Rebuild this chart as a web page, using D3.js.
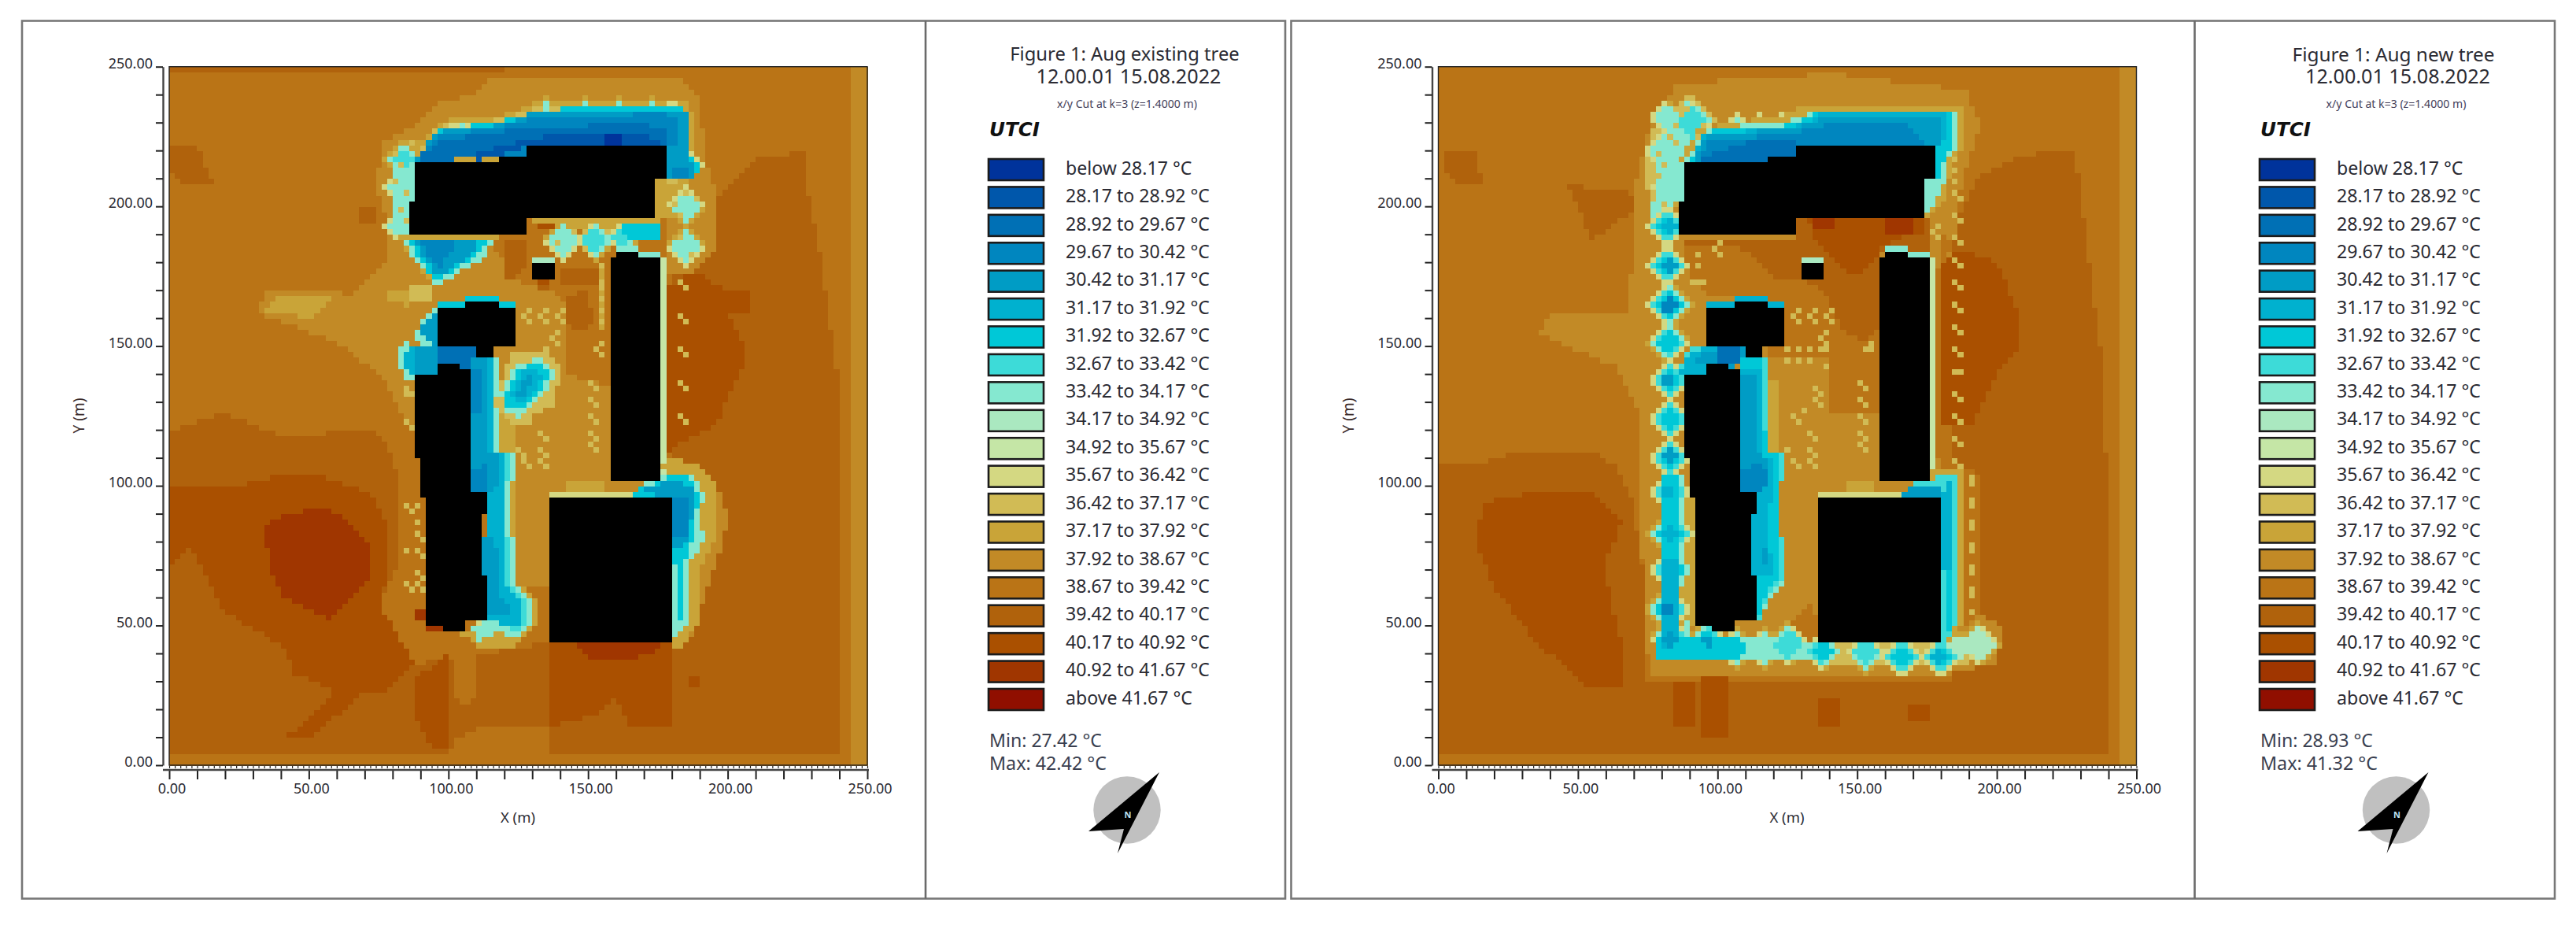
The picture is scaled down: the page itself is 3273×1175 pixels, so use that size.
<!DOCTYPE html>
<html><head><meta charset="utf-8">
<script src="https://cdn.jsdelivr.net/npm/d3@7"></script>
<style>html,body{margin:0;padding:0;background:#fff}svg{display:block}text{font-family:"Noto Sans",sans-serif}</style>
</head><body><svg id="chart" width="3273" height="1175"></svg>
<script>
// ---- legend ----
const bandLabels=["below 28.17 °C","28.17 to 28.92 °C","28.92 to 29.67 °C","29.67 to 30.42 °C","30.42 to 31.17 °C","31.17 to 31.92 °C","31.92 to 32.67 °C","32.67 to 33.42 °C","33.42 to 34.17 °C","34.17 to 34.92 °C","34.92 to 35.67 °C","35.67 to 36.42 °C","36.42 to 37.17 °C","37.17 to 37.92 °C","37.92 to 38.67 °C","38.67 to 39.42 °C","39.42 to 40.17 °C","40.17 to 40.92 °C","40.92 to 41.67 °C","above 41.67 °C"];
const bandColors=["#00339b","#0057ab","#0070b5","#0086bf","#009cc5","#00b1cf","#00c8d7","#3ddbd8","#85e8d0","#aae8c0","#c5e6a6","#d4d882","#d1bb55","#c9a438","#c28a26","#ba7416","#b0620c","#aa5000","#a03600","#900f00"];
const tickValues=d3.range(0,251,10);
const minorTicks=d3.range(0,251,2);

// ---- buildings (x,y in metres), same in both panels ----
const buildings=[
 [[88,216.3],[118,216.3],[118,218.6],[128,218.6],[128,222.6],[179,222.6],[179,209.4],[175,209.4],[175,195.4],[128.5,195.4],[128.5,189.7],[86,189.7],[86,202],[88,202]],
 [[130,174],[138.6,174],[138.6,180.2],[130,180.2]],
 [[158,102],[176.7,102],[176.7,182.2],[168.7,182.2],[168.7,184.6],[160.5,184.6],[160.5,182.2],[158,182.2]],
 [[96,150],[110,150],[110,146],[116.7,146],[116.7,150],[124.5,150],[124.5,164.4],[118.4,164.4],[118.4,166.4],[106,166.4],[106,164.4],[96,164.4]],
 [[88,140.4],[96,140.4],[96,144.5],[105,144.5],[105,142.3],[108.8,142.3],[108.8,98.4],[114.5,98.4],[114.5,90.2],[112.8,90],[112.8,68.3],[114.5,68.3],[114.5,51.4],[106.2,51.4],[106.2,47.5],[98.2,47.5],[98.2,49.5],[91.9,49.5],[91.9,95.5],[89.8,95.5],[89.8,109.6],[88,109.6]],
 [[136,43.4],[180.6,43.4],[180.6,96.6],[136,96.6]]
];
const thinLines=[
 [10,[[176.7,104],[178.4,104],[178.4,182],[176.7,182]]],
 [11,[[136,96.6],[166,96.6],[166,98.2],[136,98.2]]],
 [9,[[130,180.2],[138.6,180.2],[138.6,182.2],[130,182.2]]],
 [8,[[160.5,184.6],[168.7,184.6],[168.7,186.2],[160.5,186.2]]],
 [8,[[168.7,182.2],[177,182.2],[177,184],[168.7,184]]]
];

// ---- left panel: existing tree ----
const leftBackground=[
 [14,[[243.5,0],[250,0],[250,250],[243.5,250]]],
 [16,[[0,248],[120,248],[120,250],[0,250]]],
 [16,[[0,120],[20,126],[40,118],[72,120],[78.5,114],[82,103],[83,90.6],[82,72],[75.6,58],[74,53],[76.6,44],[86,36],[100,38],[136,44],[180,44],[180,176],[190,188],[196,202],[211,217],[228,220],[228,208],[233,185],[239,143],[240,12],[239,4],[0,4]]],
 [16,[[1,221],[10,222],[13,214],[16,208],[6,208],[1,212]]],
 [16,[[68,201],[74,201],[74,195],[68,195]]],
 [15,[[102,44],[110,42],[111,28],[106,20],[102,26]]],
 [15,[[100,5],[136,5],[136,14],[112,14],[103,10]]],
 [17,[[0,99],[25,100],[41,104],[49,105],[68,99],[72,99],[78.5,86],[78.5,67],[74.7,58],[80,50],[88,36],[79,27],[60,26],[45,33],[41,42],[19,56],[8,78],[0,71]]],
 [17,[[43,11],[52,11],[68,25],[60,26],[52,19]]],
 [17,[[88,31],[99,39.5],[99.5,6],[93.5,6],[88,18]]],
 [17,[[136,44],[180,44],[180,14],[165,14],[160,24],[152,18],[136,14]]],
 [17,[[178,171],[186,176],[192,176],[194,172],[208,169],[208,163],[200,162],[206,149],[206,144],[199,130],[196,122],[183,116],[178,110]]],
 [17,[[186,32],[191,32],[191,29],[186,29]]],
 [18,[[34,86],[41,90],[54,92],[62,90],[73,77.5],[73,67],[58,52],[51,56],[41,60.6],[36,71]]],
 [18,[[146,44],[176,44],[175,41],[166,38],[152,38],[148,41]]],
 [18,[[88,56],[91,56],[92,48],[98,47],[98,50],[92,50],[92,51],[88,52]]],
 [14,[[116,246],[150,247],[184,246],[190,238],[192,217],[196,205],[195,184],[187.5,177],[178,176],[178,108],[186.5,109],[198,97],[199.7,87],[196,72],[189,53],[186.6,44],[136,44],[136,65],[124,65],[118,80],[115,90],[114,142],[88,120],[81.6,128],[77,139],[60,151.5],[32,162],[34,169],[60,170],[66,168],[72,176],[78.5,181],[78.5,193],[74,208],[76.6,223],[86,228],[97,237.6],[108.5,240]]],
 [15,[[117,190],[128,190],[128,196],[178,196],[178,180],[158,180],[158,136],[142,140],[142,165],[135,173],[128,172],[122,178],[117,185]]],
 [16,[[120,189],[128,189],[127,178],[122,174],[119,176]]],
 [16,[[142,168],[150,170],[152,158],[148,155],[142,158]]],
 [16,[[141,178],[154,178],[154,172],[141,172]]],
 [16,[[132,176],[136,176],[136,170],[132,170]]],
 [17,[[132,195.4],[160,195.4],[160,193],[132,193]]],
 [17,[[132,174],[136,174],[136,172],[132,172]]],
 [13,[[32,162],[40,168],[58,167],[50,160],[42,162]]],
 [13,[[76.6,168.6],[87,171.4],[94.4,171.4],[94.4,165.8],[84,164.8],[76,167.6]]],
 [12,[[87,171.4],[94.4,171.4],[94.4,166],[87,166]]],
 [13,[[118,113],[124.5,113],[124.5,125.4],[118,125.4]]],
 [13,[[142.4,99],[156.5,99],[156.5,102],[142.4,102]]],
 [13,[[118,102],[122,102],[122,82],[124,82],[124,102]]],
 [13,[[153.6,156],[156.5,156],[156.5,180],[153.6,180]]],
 // halo around the top building
 [13,[[131.6,237.6],[183.7,238.6],[187.5,234.3],[188.4,220],[186,208],[180,196],[162,190],[128.5,195.4],[116,187.4],[98.2,172.4],[94.4,172.4],[84,185.5],[84,196],[84,216],[83.2,224],[91.6,224],[98.2,230.6],[113.2,231.5],[124.5,233.9]]],
 [12,[[132,236],[182.8,237],[186,234],[186.6,219],[182,208],[179,209],[179,222],[88,216.5],[92,223],[96.3,228.8],[114.2,230.6],[124.5,233]]],
 [8,[[82,222],[88,218],[88,202],[86,202],[86,190],[81,195],[80,206],[80,218]]]
];
const leftCrowns=[
 [185,200.5,8,8],[185,185.5,8,8],[141.4,187.4,8,8],[152.7,187.8,8,7],[163,189,7,7],[185.6,214.6,7,6],
 [84,217.4,7.5,7],[83,207,7.5,8],[81.8,193,6,8],[111.2,47.5,5.5,9],[122.6,48.4,5.5,9],
 [135,236,3.5,8],[149,236,3.5,8],[161,236,3.5,8],[173.4,236,3.5,8],[180,236,3.5,8],[102.4,229.5,3,8],[106,229,3,8]
];
const leftCold=[
 // under the top building
 [8,[[84,189],[116,189],[113.2,181.8],[98.2,173.3],[95.4,172.4],[88.8,179.9],[85,185.5]]],
 [6,[[85.5,189],[114,189],[111.4,183.6],[98.2,174.7],[95.4,174.2],[89.7,180.8]]],
 [4,[[87.9,189],[112.3,189],[107.6,182.7],[98.2,176.1],[95.4,175.2],[90.7,182.7]]],
 [3,[[89.7,189],[102.9,189],[102,184.6],[96.3,178],[92.6,183.6]]],
 // north of the top building
 [6,[[132,234.8],[182.8,236.2],[186,233.9],[186.6,218.4],[190.3,214.6],[187.5,209.4],[175.3,209.4],[175.3,222],[87.9,216.5],[92.6,223],[96.3,227.8],[114.2,229.6],[124.5,232]]],
 [4,[[97.7,227.3],[114.2,228.7],[124.5,231],[131.1,234.3],[181.8,234.8],[185.6,233.4],[185.6,218.4],[188.4,214.6],[187,210.4],[179,210],[179,222],[100,222],[88,216],[94,225.4]]],
 [3,[[96.3,225.4],[114,227.8],[130.2,231.5],[175.3,233.4],[182.8,232.5],[181,222],[120,218],[90,216.3],[92,220]]],
 [2,[[88.8,217.4],[97.3,224],[113.2,225.9],[126.4,228.2],[139.6,228.7],[170.5,229.6],[179,226.8],[178,222.6],[128,222],[118,218.6],[92.6,216]]],
 [1,[[109.5,219.3],[118.9,221.7],[128.3,224],[146.1,226.8],[171.5,225.9],[177,222.6],[128,222],[118,218.6],[109.5,216.5]]],
 [0,[[156.5,226.4],[161.2,226.4],[161.2,223],[156.5,223]]],
 [3,[[181,214],[186,214],[186,211],[181,211]]],
 // south-east of the top building
 [6,[[162,195],[174.3,195],[177,189.3],[168.7,187.4],[162,189.3]]],
 // around the middle building
 [6,[[96,164],[96,166],[106,166],[106,168],[118,168],[118,166],[124,166],[124,164]]],
 [8,[[88,155],[92,162],[96,164],[96,150],[90,150]]],
 [4,[[90,155.5],[93.5,161],[96,162.5],[96,150],[91.6,151.7]]],
 [8,[[81,146],[85,152],[88.8,150],[110,150],[113,146],[105,142],[96,141],[88,137],[85,139]]],
 [5,[[83,146],[86,150],[110,150],[110,146],[105,143],[96,143],[90,139],[86,141]]],
 [4,[[87,150],[110,150],[110,146],[105,144.5],[96,144.5],[96,141],[88,141]]],
 [2,[[96,149.8],[110,149.8],[110,144],[105,142.3],[105,144.5],[96,144.5]]],
 // strip east of the long building
 [13,[[118,147],[119.5,112],[125,113],[125,102],[123,102],[123,82],[125,81],[125,65],[132,60],[132,50],[122,42],[111,42],[105,47],[114,51],[114,140]]],
 [8,[[118,146],[118,128.2],[118,112.3],[123.6,112.3],[123.6,102],[121.7,102],[121.7,82.2],[123.6,81.3],[123.6,64.4],[130.2,59.7],[130.2,51.2],[122.6,44.7],[118,49.3],[111.4,44.2],[106.7,50.3],[114.5,51.4],[114.5,98],[108.8,98],[108.8,146]]],
 [7,[[116.5,146],[117,112],[122.6,112],[122.6,102],[120.7,102],[120.7,82],[122.6,81],[122.6,64],[128.6,59.7],[128.6,52],[124,48],[118,52],[114.5,51.4],[114.5,98],[108.8,98],[108.8,146]]],
 [5,[[115.5,146],[116,128],[116,112],[121,112],[121,102],[119.5,102],[119.5,82],[121,76],[121,64],[127,58],[126,50],[118,51],[114.5,51.4],[114.5,98],[108.8,98],[108.8,146]]],
 [4,[[113.5,146],[115,128],[113,112],[118,112],[118.5,102],[115,98.4],[108.8,98.4],[108.8,146]]],
 [4,[[112.8,82],[116.5,82],[118.5,68],[118.5,60],[123,55],[118,53],[114.5,54],[114.5,68],[112.8,68]]],
 [3,[[108.8,105],[113,108],[114,98.4],[108.8,98.4]]],
 [3,[[108.8,142],[112,142],[112,126],[108.8,126]]],
 // crown between the buildings
 [12,[[116,128],[122,148],[135,149],[141,142],[136,128],[125,122]]],
 [8,[[118.9,133],[124.5,144],[134,146],[138.6,141.4],[135.8,134.8],[131,129],[124.5,124.5],[119.8,126.3]]],
 [6,[[121,134],[125,142.5],[133,144],[136,141],[134,135],[129.5,130],[124.5,127.5],[121,129]]],
 [5,[[123,133],[127,141],[132,142],[134,140],[131,134],[127,130],[124,130]]],
 [4,[[124,132],[128,140],[131,140],[128,133]]],
 // east of the big block
 [13,[[176,106],[180,110],[190,108],[196,100],[195,80],[190,70],[189,50],[184,43],[180,43],[180,104]]],
 [8,[[169.6,101],[176.2,102],[178,104.7],[187.5,103.8],[191.3,97.2],[190.3,85],[192.2,81.3],[187.5,74.7],[186.1,71.9],[186.1,52.2],[182.8,47.5],[180.9,46],[180.6,96.6],[165.9,96.6]]],
 [6,[[168.2,99],[176.2,101.5],[178,103.8],[186.6,102.9],[189.4,97.2],[188.4,83],[185.6,76.6],[183.7,71],[183.7,53],[181.4,46.5],[180.6,96.6],[166,96.6]]],
 [4,[[170.6,100],[177,101],[182,102],[187.5,100],[187.5,96],[186.6,82],[182.8,78.5],[180.6,78.5],[180.6,96.6],[170.6,97.2]]],
 [3,[[180.6,96.5],[186.6,95.4],[185.6,83],[181,81]]]
];
const leftSpeckle=[[85,135],[85,133],[87,133],[85,123],[87,121],[85,93],[89,93],[87,91],[89,87],[89,83],[91,81],[85,77],[89,77],[91,75],[89,69],[91,67],[85,65],[89,65],[87,63],[91,63],
 [151,137],[153,135],[151,131],[153,129],[151,125],[153,123],[151,119],[153,117],[151,115],[153,113],
 [133,119],[135,117],[133,113],[135,111],[133,109],[135,107],[125,113],[127,111],[127,109],[129,107],
 [137,129],[135,132],[131,127],[123,123],[127,123],[129,123],
 [183,137],[185,135],[183,125],[185,123],[183,173],[185,171],[183,161],[185,159],[183,149],[185,147],
 [129,163],[127,161],[129,159],[135,163],[133,161],[135,159],[141,163],[139,161],[141,159],[139,155],[137,153],[139,151],[135,148],
 [155,178],[155,173],[155,170],[155,167],[155,163],[155,159],[155,151],[153,149],[155,147],
 [80,218],[82,214],[80,208],[84,204],[82,198],[84,194],[86,222],[181,200],[189,202],[185,204],[183,196],[187,182],[183,188],[139,186],[145,190],[149,184],[156,190],[148,191]];

// ---- right panel: new tree ----
const rightBackground=[
 [14,[[243.5,0],[250,0],[250,250],[243.5,250]]],
 [16,[[0,107],[18,109],[27,112],[55,113],[64,107],[69,96],[75,60],[75,30],[185,30],[185,100],[180,185],[193,210],[208,218],[228,221],[230,204],[238.6,136.6],[240.7,10],[240,4],[0,4]]],
 [16,[[3,221],[13,221],[16,208],[6,208],[3,212]]],
 [16,[[46.4,207.3],[68,206],[72,200],[55,188],[50.7,198]]],
 [17,[[16,94.4],[33.5,97.5],[55,97.5],[66,88],[59.4,71],[66,41.6],[66,29],[53,29],[35.6,43.7],[20.5,62.7],[14,79.6]]],
 [17,[[178,184],[190,184],[200,180],[208,162],[208,150],[202,143],[191,122],[178,122]]],
 [17,[[85,30],[92,30],[92,14],[85,14]]],
 [17,[[95,32],[104,32],[104,10],[95,10]]],
 [17,[[136,24],[144,24],[144,15],[136,15]]],
 [17,[[168,22],[176,22],[176,16],[168,16]]],
 [14,[[85,244],[141,247.5],[189,242],[194,229.5],[186.7,206],[184.6,183],[178,176],[178,110],[193,105],[194,54],[202,50],[200,37],[184.6,33],[76.6,32],[74.5,41.6],[72,94.4],[71.2,128],[63.7,143],[48.6,149],[36.7,154.6],[40,161],[68,162],[70,189.4],[70,206],[74.5,225]]],
 [15,[[178,176],[178,110],[193,105],[194,54],[180,44],[180,190],[185,186]]],
 [16,[[88,189],[128,189],[128,196],[176,196],[176,184],[158,184],[158,156],[152,152],[145.4,155.5],[137,171],[128.5,174],[121,175],[114,182],[103,187],[88,187]]],
 [17,[[132.3,195.4],[174.5,195.4],[174.5,190],[167,189.2],[158.6,185.5],[156.6,182],[149,175],[142.6,179.8],[135,189]]],
 [18,[[134,195.4],[142,195.4],[142,192],[134,192]]],
 [18,[[160,195.4],[170,195.4],[170,191],[160,191]]],
 [15,[[88,187],[103,187],[114,182],[121,175],[128.5,174],[137,171],[145.4,155.5],[152,152],[158,156],[158,126],[140,126],[140,147],[118,147],[118,168],[96,168],[90,175]]],
 [14,[[118,147],[140,147],[140,126],[158,126],[158,102],[166,102],[166,97],[136,97],[136,44],[118,44],[122,62],[124,80],[124,112],[118,112]]],
 [15,[[126,52],[134,58],[136,50],[136,44],[124,44]]],
 [13,[[118,113],[123,113],[123,138],[118,138]]],
 [13,[[146,99],[156,99],[156,102],[146,102]]],
 [13,[[87,96],[92,96],[92,50],[87,50]]],
 [14,[[124,102],[128,102],[128,82],[124,82]]],
 // band under the tree row
 [12,[[135,37],[190,37],[190,44],[135,44]]],
 [8,[[79.5,105],[87.5,105],[87.5,46],[79,38],[135,38],[135,44],[105,46],[90,47]]],
 [6,[[80.5,105],[86.5,105],[86.5,46],[80,40]]],
 [6,[[79,39],[107,39],[107,45],[87,46],[79,45]]],
 [5,[[80.5,75],[86,75],[86,46],[80,41]]],
 // crowns at the top-left corner
 [12,[[76,226],[89,241],[100,232],[92,218],[90,204],[76,196],[74,215]]],
 [8,[[80.6,225],[89,238],[98.4,231.5],[91,219.3],[88,216.5],[88,203.3],[76.8,196.8],[77.7,222]]]
];
const rightCrowns=[
 [82.4,193,8.5,5],[82.4,179,8.5,4],[82.4,164.8,9,3],[82.4,151.7,8.5,6],[83,138,8.5,4],[83,124,8.5,6],[83,110.4,8.5,4],[83,98,8.5,5],[83.4,83,9,5],[83.4,70,9,5],[82.5,56,9,3],[83.4,45.6,8.5,4],
 [81.5,220,8.5,8],[91,229.6,8.5,7],[84,207,8,8],[82,232,7,8],[106.9,230.6,4,8],[114.9,230.6,4,8],[122.8,230.6,4,8],
 [96.5,44.6,8,4],[107,42,8,6],[116.3,42,8,8],[125.7,43.7,8.5,7],[137.9,40.9,8,6],[153,40.9,8,7],[166,39,8.5,6],[180,39,8.5,5],[193.4,43.7,8.5,9],[186,42,6.5,9]
];
const rightCold=[
 // north of the top building
 [13,[[86,216],[93,228],[124,233],[132,236.5],[188.5,236.5],[188.5,222],[184,215],[182,204],[175,196],[175,222]]],
 [8,[[88,216.5],[95.6,227.8],[125.7,230.6],[133.2,233.4],[186.3,234.3],[186.3,220.2],[182,217.4],[181,208],[176.4,199.6],[175,198.6],[175,209.4],[179,209.4],[179,222.6],[128.3,222.6],[128.3,218.6],[118,218.6],[118,216.3]]],
 [6,[[89.5,216.3],[95.6,226.8],[126.6,229.2],[135,233.9],[184.9,233.9],[183,220.2],[180,212.7],[179,209.4],[179,222.6]]],
 [5,[[137,234.3],[182,233.9],[183,225],[179,222.6],[127,222.6],[91,216.5],[95,225.9],[125.7,228.2],[135,231.5]]],
 [4,[[95.6,225.9],[126.6,227.8],[137,231.5],[181,231.5],[181,224.5],[179,222.6],[128.3,222.6],[118,218.6],[92,216.5]]],
 [3,[[95.6,223],[126.6,226.4],[138,229.2],[166,230],[173.6,224],[173.6,222.6],[128.3,222.6],[118,218.6],[93.7,216.5]]],
 [2,[[95.6,218.4],[109.7,223],[127.5,224.5],[127.5,218.6],[118,218.6],[118,216.3],[94.6,216.3]]],
 // around the middle building
 [5,[[96,164.4],[96,166],[106,166],[106,168],[118,168],[118,166],[124,166],[124,164.4]]],
 [7,[[86,139],[88,147],[92,149.8],[110,150],[110,145],[105,142],[96,143],[96,140]]],
 [5,[[87,141],[90,147.9],[95.6,149.8],[110,149.8],[110,145],[105,142],[96,144],[96,141]]],
 [4,[[95,148],[110,149.8],[110,145],[105,142],[96,144.5],[92,144]]],
 [2,[[100,149.8],[108,149.8],[108,145],[105,144],[105,144.5],[100,144.5]]],
 // strip east of the long building
 [8,[[118,146],[119,112.3],[125,112.3],[125,102],[123,102],[123,81.3],[125,81.3],[125,67],[119,60],[116,54],[114.5,51.2],[114.5,98.4],[108.8,98.4],[108.8,146]]],
 [7,[[117.2,146],[118.2,112.3],[123.8,112.3],[123.8,102],[122,102],[122,81.3],[123.8,81.3],[123.8,67.2],[118.2,60.6],[115.4,54],[114.5,51.2],[114.5,98.4],[108.8,98.4],[108.8,143]]],
 [6,[[116.3,146],[117.2,112.3],[122,111.3],[121,81.3],[122,67.2],[117.2,60.6],[115.4,55],[114.5,55],[114.5,98.4],[108.8,98.4],[108.8,146]]],
 [5,[[115.3,143],[115.3,111],[120,111],[118.2,81.3],[120,69],[115.3,68],[112.8,68],[112.8,90],[114.5,98.4],[108.8,98.4],[108.8,143]]],
 [4,[[109,141],[113,141],[115,112],[118,110],[118,102],[114.7,98.4],[108.8,98.4]]],
 [4,[[115.3,79],[119,79],[119,72],[115.3,72]]],
 [3,[[109,105.7],[116.3,109.4],[118.2,101],[114.7,98.4],[108.8,98.4]]],
 // east of the big block
 [13,[[176,106],[180,107],[188,106.5],[188,52],[184,44],[180.6,44]]],
 [7,[[166.6,96.8],[170.8,101],[176.9,102],[178.8,104.3],[186.3,104.3],[186.3,53],[182,43.7],[180.6,45],[180.6,96.6]]],
 [6,[[180.6,96.6],[182,102],[184,102],[184.4,53],[182,45.6]]],
 [5,[[180.6,96.6],[182,102],[183.5,102],[183,70],[180.6,70]]],
 [4,[[169,99],[176.4,101],[180.6,98],[180.6,96.6],[166.6,96.6]]]
];
const rightSpeckle=[[190,103],[191,101],[190,95],[191,93],[190,87],[191,85],[190,79],[191,77],[190,71],[191,69],[190,63],[191,61],[190,55],
 [185,141],[187,140],[185,133],[187,131],[185,125],[187,123],[185,117],[187,115],[185,109],[187,107],
 [185,197],[187,195],[185,189],[187,187],[185,181],[187,179],[185,173],[187,171],[185,165],[187,163],[185,157],[187,155],[185,149],[187,147],
 [185,217],[185,213],[185,209],[185,205],[187,203],[179,193],[179,189],[177,191],
 [151,137],[153,135],[151,131],[153,129],[151,125],[153,123],[151,119],[153,117],[151,115],[153,113],
 [135,135],[137,133],[135,131],[137,129],[131,127],[127,125],[129,123],[133,119],[135,117],[125,113],[127,109],[129,107],[133,113],[135,111],[133,109],[135,107],
 [129,163],[127,161],[129,159],[135,163],[133,161],[135,159],[141,163],[139,161],[141,159],[139,155],[137,153],[139,151],[137,148],[139,148],[133,149],[129,149],[125,149],[125,145],[129,145],[133,145],[139,143],
 [155,151],[153,149],[155,148],[101,187],[99,185],[101,183],[93,183],[93,179],[93,173],[91,173],[95,173],
 [78,210],[80,214],[82,224],[84,229],[79,218],[86,233],[92,224],[77,204],[89,234],[95,229],[85,222],[80,200]];

const crownRings=[[0,13],[1,11],[2,8],[3,7],[4,6]];

const panels=[
 {dx:0,lx:0,title:"Figure 1: Aug existing tree",titleW:291.7,titleCx:1429,min:"Min: 27.42 °C",max:"Max: 42.42 °C",right:1633,bg:leftBackground,crowns:leftCrowns,cold:leftCold,speckle:leftSpeckle},
 {dx:1612.5,lx:1615,title:"Figure 1: Aug new tree",titleW:257,titleCx:3041,min:"Min: 28.93 °C",max:"Max: 41.32 °C",right:3246,bg:rightBackground,crowns:rightCrowns,cold:rightCold,speckle:rightSpeckle}
];

const svg=d3.select("#chart");
const textCol="#2b2b33";
const BUILDING=-1;

function fit(sel,w){
 const n=sel.node(), s=parseFloat(sel.attr("font-size"));
 sel.attr("font-size",s*w/n.getComputedTextLength());
 return sel;
}
function fitSize(w,txt){
 const t=svg.append("text").attr("font-size",20).text(txt);
 const len=t.node().getComputedTextLength(); t.remove();
 return 20*w/len;
}
function diamond(x,y,r){return [[x-r,y],[x,y+r],[x+r,y],[x,y-r]];}
function paint(grid,band,poly,colderOnly){
 const xs=poly.map(p=>p[0]),ys=poly.map(p=>p[1]);
 const x0=d3.min(xs),x1=d3.max(xs),y0=d3.min(ys),y1=d3.max(ys);
 for(let j=Math.max(0,Math.floor((y0-1)/2));j<125&&2*j+1<=y1;j++)
  for(let i=Math.max(0,Math.floor((x0-1)/2));i<125&&2*i+1<=x1;i++)
   if(d3.polygonContains(poly,[2*i+1,2*j+1])&&(!colderOnly||grid[j][i]>band)) grid[j][i]=band;
}
function buildGrid(p){
 const grid=d3.range(125).map(()=>new Array(125).fill(15));
 p.bg.forEach(l=>paint(grid,l[0],l[1]));
 p.crowns.forEach(c=>{
  crownRings.forEach(r=>{ if(c[2]-r[0]>0) paint(grid,Math.max(r[1],c[3]),diamond(c[0],c[1],c[2]-r[0]),true); });
  if(c[2]-5.5>0) paint(grid,c[3],diamond(c[0],c[1],c[2]-5.5),true);
 });
 thinLines.forEach(l=>paint(grid,l[0],l[1]));
 p.cold.forEach(l=>paint(grid,l[0],l[1]));
 p.speckle.forEach(s=>{const i=Math.floor(s[0]/2),j=Math.floor(s[1]/2); if(i>=0&&j>=0&&i<125&&j<125) grid[j][i]=12;});
 buildings.forEach(b=>paint(grid,BUILDING,b));
 return grid;
}

const axisFont=fitSize(46,"50.00");
const legendFont=fitSize(183,"28.17 to 28.92 °C");

panels.forEach(p=>{
 const x=d3.scaleLinear().domain([0,250]).range([215+p.dx,1102+p.dx]);
 const y=d3.scaleLinear().domain([0,250]).range([972,84.7]);
 const color=b=>b===BUILDING?"#000":bandColors[b];
 // frame
 const frameX=28+p.dx;
 svg.append("rect").attr("x",frameX).attr("y",26.5).attr("width",p.right-frameX).attr("height",1115)
  .attr("fill","#fff").attr("stroke","#777").attr("stroke-width",2.6);
 svg.append("line").attr("x1",1176+p.dx).attr("x2",1176+p.dx).attr("y1",26.5).attr("y2",1141.5).attr("stroke","#6a6a6a").attr("stroke-width",2.6);
 // cells
 const grid=buildGrid(p);
 const cells=svg.append("g").style("filter","blur(0.7px)").attr("shape-rendering","crispEdges");
 grid.forEach((row,j)=>{
  let i=0;
  while(i<125){
   let k=i; while(k<125&&row[k]===row[i])k++;
   cells.append("rect").attr("x",x(2*i)).attr("y",y(2*j+2)).attr("width",x(2*k)-x(2*i)+.6).attr("height",y(2*j)-y(2*j+2)+.6).attr("fill",color(row[i]));
   i=k;
  }
 });
 // plot outline
 svg.append("rect").attr("x",x(0)).attr("y",y(250)).attr("width",x(250)-x(0)).attr("height",y(0)-y(250)).attr("fill","none").attr("stroke","#222").attr("stroke-width",1.4);
 // axes
 const axX=svg.append("g").attr("transform","translate(0,978)")
  .call(d3.axisBottom(x).tickValues(tickValues).tickSize(12).tickSizeOuter(0).tickPadding(5).tickFormat(d=>d%50===0?d.toFixed(2):""));
 axX.select(".domain").remove();
 axX.selectAll("line").attr("stroke","#222").attr("stroke-width",2);
 axX.selectAll("text").attr("font-size",axisFont).attr("fill",textCol).attr("dx",3);
 svg.append("g").attr("transform","translate(0,973)")
  .call(d3.axisBottom(x).tickValues(minorTicks).tickSize(3).tickFormat("")).call(g=>g.select(".domain").remove())
  .selectAll("line").attr("stroke","#222").attr("stroke-width",1.2);
 svg.append("line").attr("x1",207+p.dx).attr("x2",1104+p.dx).attr("y1",978).attr("y2",978).attr("stroke","#444").attr("stroke-width",2.4);
 const axY=svg.append("g").attr("transform",`translate(${207+p.dx},0)`)
  .call(d3.axisLeft(y).tickValues(tickValues).tickSize(9).tickSizeOuter(0).tickPadding(4).tickFormat(d=>d%50===0?d.toFixed(2):""));
 axY.select(".domain").attr("stroke","#444").attr("stroke-width",2.4);
 axY.selectAll("line").attr("stroke","#222").attr("stroke-width",2);
 axY.selectAll("text").attr("font-size",axisFont).attr("fill",textCol).attr("dy","0.1em");
 fit(svg.append("text").attr("x",658+p.dx).attr("y",1040).attr("text-anchor","middle").attr("dominant-baseline","middle").attr("font-size",17.5).attr("fill",textCol).text("X (m)"),44);
 fit(svg.append("text").attr("transform",`translate(${102+p.dx},528) rotate(-90)`).attr("text-anchor","middle").attr("dominant-baseline","middle").attr("font-size",17.5).attr("fill","#3a2a2a").text("Y (m)"),45);
 // titles
 const lx=p.lx;
 fit(svg.append("text").attr("x",p.titleCx).attr("y",71).attr("text-anchor","middle").attr("dominant-baseline","middle").attr("font-size",23).attr("fill",textCol).text(p.title),p.titleW);
 fit(svg.append("text").attr("x",1434+p.dx).attr("y",99).attr("text-anchor","middle").attr("dominant-baseline","middle").attr("font-size",23).attr("fill",textCol).text("12.00.01 15.08.2022"),235);
 fit(svg.append("text").attr("x",1432+p.dx).attr("y",133).attr("text-anchor","middle").attr("dominant-baseline","middle").attr("font-size",12.5).attr("fill","#44405a").text("x/y Cut at k=3 (z=1.4000 m)"),178);
 fit(svg.append("text").attr("x",1257+lx).attr("y",166).attr("dominant-baseline","middle").attr("font-size",22).attr("font-weight","bold").attr("font-style","italic").attr("fill","#111").style("font-family","DejaVu Sans").text("UTCI"),64);
 // legend
 const ly=d3.scaleLinear().domain([0,19]).range([202,875]);
 const lg=svg.append("g");
 lg.selectAll("rect").data(bandColors).join("rect").attr("x",1256+lx).attr("y",(d,i)=>ly(i)).attr("width",70).attr("height",27).attr("fill",d=>d).attr("stroke","#1c1c1c").attr("stroke-width",2.6);
 lg.selectAll("text").data(bandLabels).join("text").attr("x",1354+lx).attr("y",(d,i)=>ly(i)+13.5).attr("dominant-baseline","middle").attr("font-size",legendFont).attr("fill",textCol).text(d=>d);
 fit(svg.append("text").attr("x",1257+lx).attr("y",943).attr("dominant-baseline","middle").attr("font-size",19.5).attr("fill","#3a3f50").text(p.min),143);
 fit(svg.append("text").attr("x",1257+lx).attr("y",972).attr("dominant-baseline","middle").attr("font-size",19.5).attr("fill","#3a3f50").text(p.max),149);
 // north arrow
 const n=svg.append("g").attr("transform",`translate(${1432+p.dx},1029)`);
 n.append("circle").attr("r",42.7).attr("fill","#c0c0c0");
 n.append("path").attr("d","M41,-48 L-49,27 L-4,24 L-12,55 Z").attr("fill","#000");
 n.append("text").attr("x",1).attr("y",7).attr("text-anchor","middle").attr("dominant-baseline","middle").attr("font-size",11).attr("font-weight","bold").attr("fill","#bfe2f2").text("N");
});
</script></body></html>
